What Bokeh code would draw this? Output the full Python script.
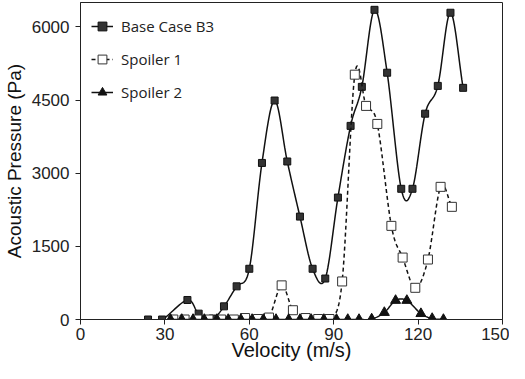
import numpy as np
from bokeh.plotting import figure
from bokeh.models import Range1d, FixedTicker, Legend, LegendItem
from bokeh.embed import file_html
from bokeh.resources import INLINE

# Data
b3_x = [24, 29, 38, 42, 47, 51, 55.5, 60, 64.5, 69, 73.5, 78, 82.5, 87, 91.5, 96, 100, 104.5, 109, 114, 118, 122.5, 127, 131.5, 136]
b3_y = [0, 0, 400, 120, 20, 270, 680, 1040, 3210, 4490, 3240, 2110, 1040, 840, 2500, 3970, 4770, 6350, 5060, 2680, 2680, 4220, 4790, 6290, 4750]

s1_x = [33, 37, 41.5, 45.5, 50, 54.5, 58.5, 63, 67, 71.5, 75.5, 80, 84.5, 88.5, 93, 97.5, 101.5, 105.5, 110.5, 114.5, 119, 123.5, 128, 132]
s1_y = [0, 0, 0, 0, 0, 0, 30, 10, 40, 700, 190, 30, 10, 10, 780, 5020, 4380, 4010, 1920, 1270, 650, 1230, 2720, 2310]

s2_x = [32, 36, 40, 44, 48.5, 52.5, 57, 61, 65, 69.5, 74, 78, 82, 86.5, 91, 95, 99, 103.5, 108, 112, 116, 121, 125, 129]
s2_y = [0, 0, 0, 0, 0, 0, 0, 0, 0, 0, 0, 0, 0, 0, 0, 0, 0, 10, 143, 390, 390, 120, 20, 0]

x_ticks = [0, 30, 60, 90, 120, 150]
y_ticks = [0, 1500, 3000, 4500, 6000]
x_title = "Velocity (m/s)"
y_title = "Acoustic Pressure (Pa)"


def smooth(xs, ys, n=20):
    # Catmull-Rom style smoothing (like a spreadsheet "smoothed line")
    x = np.asarray(xs, float)
    y = np.asarray(ys, float)
    px = np.concatenate([[2 * x[0] - x[1]], x, [2 * x[-1] - x[-2]]])
    py = np.concatenate([[2 * y[0] - y[1]], y, [2 * y[-1] - y[-2]]])
    outx, outy = [], []
    t = np.linspace(0, 1, n, endpoint=False)
    for i in range(1, len(px) - 2):
        p0x, p1x, p2x, p3x = px[i - 1:i + 3]
        p0y, p1y, p2y, p3y = py[i - 1:i + 3]
        c1x = p1x + (p2x - p0x) / 6
        c1y = p1y + (p2y - p0y) / 6
        c2x = p2x - (p3x - p1x) / 6
        c2y = p2y - (p3y - p1y) / 6
        bx = (1 - t) ** 3 * p1x + 3 * (1 - t) ** 2 * t * c1x + 3 * (1 - t) * t ** 2 * c2x + t ** 3 * p2x
        by = (1 - t) ** 3 * p1y + 3 * (1 - t) ** 2 * t * c1y + 3 * (1 - t) * t ** 2 * c2y + t ** 3 * p2y
        outx.extend(bx)
        outy.extend(by)
    outx.append(x[-1])
    outy.append(y[-1])
    return outx, outy


W, H = 509, 363
BL, BR, BT, BB = 75, 7, 2, 44
p = figure(width=W, height=H, output_backend="svg", toolbar_location=None,
           x_range=Range1d(0, 150), y_range=Range1d(0, 6500),
           min_border_left=BL, min_border_right=BR, min_border_top=BT, min_border_bottom=BB)
p.xgrid.visible = False
p.ygrid.visible = False
p.outline_line_color = "#222222"
p.outline_line_width = 1
p.background_fill_color = "white"
p.border_fill_color = "white"

font = "Liberation Sans"
for ax in (p.xaxis[0], p.yaxis[0]):
    ax.major_label_text_font = font
    ax.major_label_text_font_size = "17px"
    ax.major_label_text_color = "#222222"
    ax.axis_label_text_font = font
    ax.axis_label_text_font_style = "normal"
    ax.axis_label_text_color = "#111111"
    ax.axis_line_color = "#222222"
    ax.major_tick_line_color = "#222222"
    ax.major_tick_out = 5
    ax.major_tick_in = 0
    ax.minor_tick_line_color = None

p.xaxis.ticker = FixedTicker(ticks=x_ticks)
p.yaxis.ticker = FixedTicker(ticks=y_ticks)
p.xaxis.axis_label = x_title
p.yaxis.axis_label = y_title
p.xaxis.axis_label_text_font_size = "20px"
p.yaxis.axis_label_text_font_size = "19px"
p.xaxis.major_label_text_line_height = 0.8
p.xaxis.axis_label_text_line_height = 0.8
p.xaxis.major_label_standoff = 3
p.yaxis.major_label_standoff = 6
p.xaxis.axis_label_standoff = -4
p.yaxis.axis_label_standoff = 4

# Base Case B3
sx, sy = smooth(b3_x, b3_y)
l1 = p.line(sx, sy, line_color="#111111", line_width=1.5)
m1 = p.scatter(b3_x, b3_y, marker="square", size=7, fill_color="#333333", line_color="#111111")

# Spoiler 1
sx, sy = smooth(s1_x, s1_y)
l2 = p.line(sx, sy, line_color="#111111", line_width=1.5, line_dash="4 3")
m2 = p.scatter(s1_x, s1_y, marker="square", size=9, fill_color="white", line_color="#333333")

# Spoiler 2
sx, sy = smooth(s2_x, s2_y)
l3 = p.line(sx, sy, line_color="#111111", line_width=1.5)
m3 = p.scatter(s2_x, s2_y, marker="triangle", size=10, fill_color="#111111", line_color="#111111")

legend = Legend(items=[
    LegendItem(label="Base Case B3", renderers=[l1, m1]),
    LegendItem(label="Spoiler 1", renderers=[l2, m2]),
    LegendItem(label="Spoiler 2", renderers=[l3, m3]),
], location="top_left")
legend.border_line_color = None
legend.background_fill_alpha = 0
legend.label_text_font = "Open Sans"
legend.label_text_font_size = "15px"
legend.label_text_color = "#222222"
legend.glyph_width = 22
legend.glyph_height = 26
legend.spacing = 7
legend.label_standoff = 8
legend.padding = 0
legend.margin = 11
p.add_layout(legend)

open("out.html", "w").write(file_html(p, INLINE))
